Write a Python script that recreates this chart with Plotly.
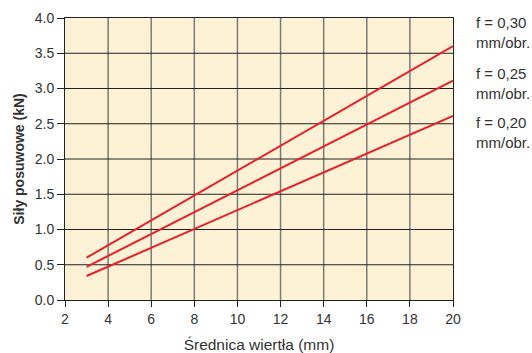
import plotly.graph_objects as go

# Drill diameter (mm) at the ends of each feed line
diameters = [3, 20]
# Feed forces (kN) for each feed rate
force_f030 = [0.60, 3.60]
force_f025 = [0.47, 3.11]
force_f020 = [0.34, 2.61]

feed_labels = ["f = 0,30<br>mm/obr.", "f = 0,25<br>mm/obr.", "f = 0,20<br>mm/obr."]
x_ticks = [2, 4, 6, 8, 10, 12, 14, 16, 18, 20]
y_ticks = [0.0, 0.5, 1.0, 1.5, 2.0, 2.5, 3.0, 3.5, 4.0]

FONT = "Liberation Sans, Arial"
TXT = "#333333"
red = "#E8202A"

fig = go.Figure()
for ys in (force_f030, force_f025, force_f020):
    fig.add_trace(go.Scatter(x=diameters, y=ys, mode="lines",
                             line=dict(color=red, width=2), showlegend=False,
                             hoverinfo="skip"))

# Vertical grid (grey) drawn as shapes under the data
for xv in x_ticks[1:-1]:
    fig.add_shape(type="line", x0=xv, x1=xv, y0=0, y1=4, xref="x", yref="y",
                  line=dict(color="#7d7b76", width=1.5), layer="below")
# Horizontal grid (dark)
for yv in y_ticks[1:-1]:
    fig.add_shape(type="line", x0=2, x1=20, y0=yv, y1=yv, xref="x", yref="y",
                  line=dict(color="#222222", width=1), layer="below")

# Feed-rate labels on the right
label_y = [1.02, 0.84, 0.665]
for txt, yy in zip(feed_labels, label_y):
    fig.add_annotation(text=txt, x=1.0, xref="paper", y=yy, yref="paper",
                       xanchor="left", yanchor="top", xshift=21, align="left",
                       showarrow=False,
                       font=dict(family=FONT, size=15, color=TXT))

fig.update_xaxes(range=[2, 20], tickvals=x_ticks, ticktext=[str(v) for v in x_ticks],
                 showgrid=False, zeroline=False, showline=True, linecolor="#222222",
                 linewidth=1, mirror=True, ticks="outside", ticklen=6, tickcolor="#222222",
                 tickfont=dict(family=FONT, size=14, color=TXT), automargin=False,
                 title=dict(text="Średnica wiertła (mm)", standoff=14,
                            font=dict(family=FONT, size=15.5, color=TXT)))
fig.update_yaxes(range=[0, 4], tickvals=y_ticks, ticktext=[f"{v:.1f}" for v in y_ticks],
                 showgrid=False, zeroline=False, showline=True, linecolor="#222222",
                 linewidth=1, mirror=True, ticks="outside", ticklen=7, tickcolor="#222222",
                 tickfont=dict(family=FONT, size=14, color=TXT), automargin=False,
                 title=dict(text="<b>Siły posuwowe (kN)</b>", standoff=6,
                            font=dict(family=FONT, size=14, color=TXT)))

fig.update_layout(width=532, height=353, margin=dict(l=65, r=79, t=18, b=53),
                  paper_bgcolor="white", plot_bgcolor="#FDF2D6")

fig.write_html("out.html")
